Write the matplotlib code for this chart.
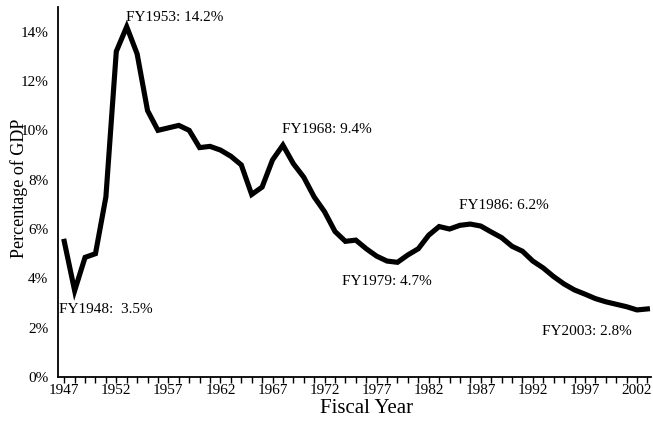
import matplotlib
matplotlib.use("agg")
from matplotlib import pyplot as plt
from matplotlib.ticker import FuncFormatter, MultipleLocator
import numpy as np

years = list(range(1947, 2004))
pct_gdp = [5.5, 3.5, 4.85, 5.0, 7.3, 13.2, 14.2, 13.1, 10.8, 10.0,
           10.1, 10.2, 10.0, 9.3, 9.35, 9.2, 8.95, 8.6, 7.4, 7.7,
           8.8, 9.4, 8.65, 8.1, 7.3, 6.7, 5.9, 5.5, 5.55, 5.2,
           4.9, 4.7, 4.65, 4.95, 5.2, 5.75, 6.1, 6.0, 6.15, 6.2,
           6.12, 5.88, 5.65, 5.3, 5.1, 4.7, 4.42, 4.07, 3.77, 3.53,
           3.36, 3.18, 3.05, 2.95, 2.85, 2.72, 2.76]
tick_years = list(range(1947, 2003, 5))

# label text, year, offset in pixels from the point (text centre)
notes = [("FY1948:  3.5%", 1948, (31, -19)),
         ("FY1953: 14.2%", 1953, (48, 9)),
         ("FY1968: 9.4%", 1968, (44, 16)),
         ("FY1979: 4.7%", 1979, (-11, -19)),
         ("FY1986: 6.2%", 1986, (34, 19)),
         ("FY2003: 2.8%", 2003, (-61, -23))]

plt.rcParams['font.family'] = ['Liberation Serif', 'DejaVu Serif']
fig = plt.figure(figsize=(6.53, 4.24), dpi=100)
ax = fig.add_axes([0.0888, 0.1108, 0.9082, 0.8727])

ax.plot(years, pct_gdp, color='black', lw=3.7, solid_joinstyle='miter')

for text, yr, off in notes:
    val = pct_gdp[years.index(yr)]
    ax.annotate(text, xy=(yr, val), xytext=off, textcoords='offset pixels',
                ha='center', va='center', fontsize=11)

ax.set_xlim(1946.4, 2003.35)
ax.set_ylim(0, 15)
ax.set_xticks(tick_years)
ax.xaxis.set_minor_locator(MultipleLocator(1))
ax.tick_params(axis='x', which='both', direction='out', length=4, width=1,
               labelsize=11, pad=1)
ax.set_yticks(np.arange(0, 15, 2))
ax.yaxis.set_major_formatter(FuncFormatter(lambda v, p: "%d%%" % v))
ax.tick_params(axis='y', length=0, labelsize=11, pad=7)

for s in ['top', 'right']:
    ax.spines[s].set_visible(False)
for s in ['left', 'bottom']:
    ax.spines[s].set_linewidth(1.3)

ax.set_xlabel("Fiscal Year", fontsize=15)
ax.set_ylabel("Percentage of GDP", fontsize=13)
ax.xaxis.set_label_coords(0.52, -0.06)
ax.yaxis.set_label_coords(-0.05, 0.51)

plt.savefig("out.png", dpi=100)
